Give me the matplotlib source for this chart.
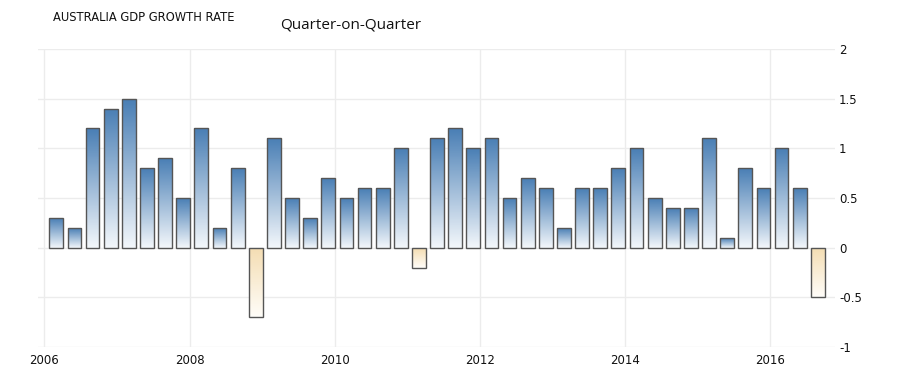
import numpy as np
import matplotlib.pyplot as plt
from matplotlib.colors import LinearSegmentedColormap

# Australia GDP growth, quarter on quarter, 2006 Q1 .. 2016 Q3
years = [2006] * 4 + [2007] * 4 + [2008] * 4 + [2009] * 4 + [2010] * 4 + \
        [2011] * 4 + [2012] * 4 + [2013] * 4 + [2014] * 4 + [2015] * 4 + [2016] * 3
quarters = [1, 2, 3, 4] * 10 + [1, 2, 3]
growth = [0.3, 0.2, 1.2, 1.4, 1.5, 0.8, 0.9, 0.5, 1.2, 0.2, 0.8, -0.7,
          1.1, 0.5, 0.3, 0.7, 0.5, 0.6, 0.6, 1.0, -0.2, 1.1, 1.2, 1.0,
          1.1, 0.5, 0.7, 0.6, 0.2, 0.6, 0.6, 0.8, 1.0, 0.5, 0.4, 0.4,
          1.1, 0.1, 0.8, 0.6, 1.0, 0.6, -0.5]
x_ticks = [2006, 2008, 2010, 2012, 2014, 2016]
y_ticks = [-1, -0.5, 0, 0.5, 1, 1.5, 2]

blue_cmap = LinearSegmentedColormap.from_list("blue", ["#f3f7fb", "#4a7fb5"])
tan_cmap = LinearSegmentedColormap.from_list("tan", ["#fffdf9", "#f4ddb2"])

fig = plt.figure(figsize=(9.19, 3.83), dpi=100)
ax = fig.add_axes([0.0413, 0.094, 0.8673, 0.778])

xpos = np.array(years) + (np.array(quarters) - 1) / 4 + 0.163
width = 0.19
bars = ax.bar(xpos, growth, width=width, color="none", edgecolor="#555555",
              linewidth=1.0, zorder=3)

grad = np.linspace(0, 1, 100).reshape(-1, 1)
for b, v in zip(bars, growth):
    x0 = b.get_x()
    if v >= 0:
        im = ax.imshow(grad, cmap=blue_cmap, aspect="auto", origin="lower",
                       extent=[x0, x0 + width, 0, v], zorder=2)
    else:
        im = ax.imshow(grad, cmap=tan_cmap, aspect="auto", origin="lower",
                       extent=[x0, x0 + width, v, 0], zorder=2)
    im.set_clip_path(b)

ax.set_xlim(2005.91, 2016.9)
ax.set_ylim(-1, 2)
ax.set_xticks(x_ticks)
ax.set_xticklabels([str(y) for y in x_ticks], fontsize=8.5)
ax.set_yticks(y_ticks)
ax.set_yticklabels([f"{t:g}" for t in y_ticks], fontsize=8.5)
ax.yaxis.tick_right()
ax.tick_params(axis="both", length=0, pad=3, colors="#111111")
ax.tick_params(axis="x", pad=5)
ax.grid(True, color="#ececec", linewidth=1, zorder=0)
for s in ax.spines.values():
    s.set_visible(False)

fig.text(0.058, 0.955, "AUSTRALIA GDP GROWTH RATE", fontsize=8.3, va="center",
         color="#111111")
fig.text(0.305, 0.935, "Quarter-on-Quarter", fontsize=11, va="center",
         family="Open Sans", color="#111111")

fig.savefig("out.png", dpi=100)
